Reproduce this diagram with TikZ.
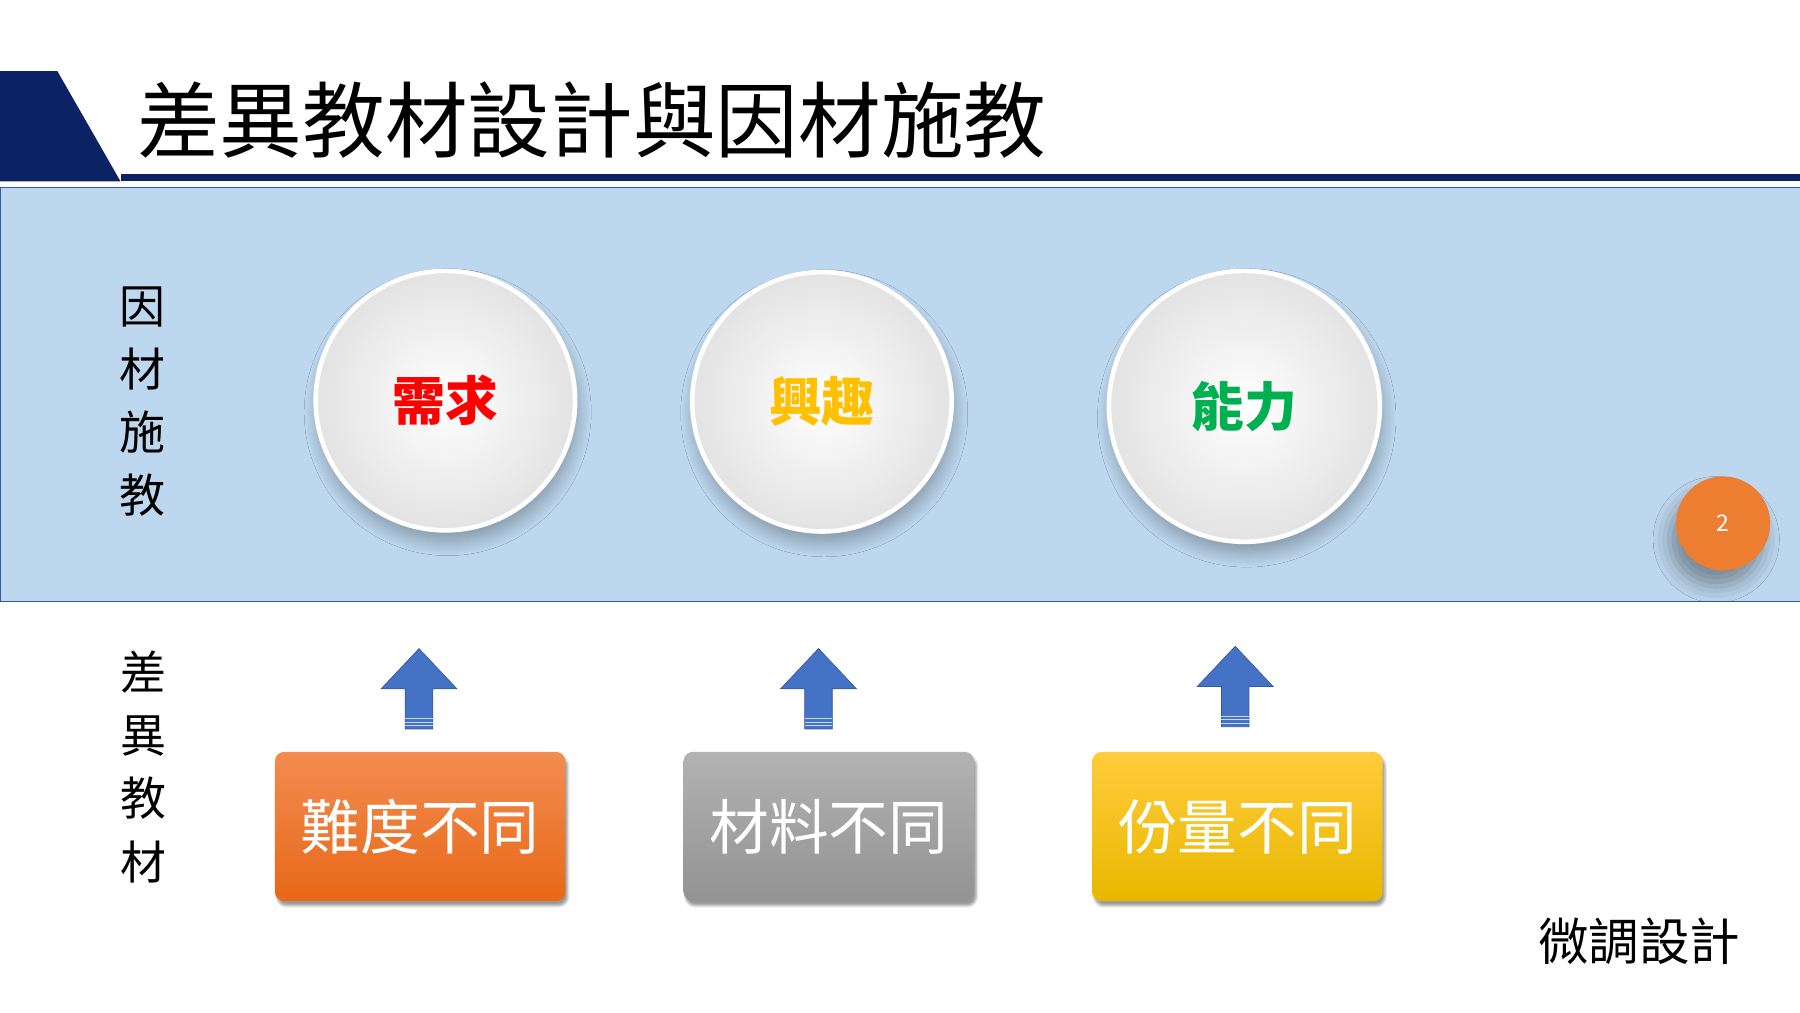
\documentclass[tikz,border=0pt]{standalone}
\usepackage{fontspec}
\setmainfont{Noto Sans CJK TC}
\usetikzlibrary{shadows.blur}
\definecolor{navy}{HTML}{0B2265}
\definecolor{band}{HTML}{BDD7EE}
\definecolor{arr}{HTML}{4472C4}
\tikzset{
 disc/.style={circle,draw=white,line width=4pt,inner color=white,outer color=gray!22,minimum size=226pt,blur shadow={shadow xshift=2pt,shadow yshift=-10pt,shadow blur steps=14,shadow blur radius=12pt,shadow opacity=30}},
 disctext/.style={font=\fontsize{46}{50}\selectfont\bfseries},
 uparrow/.style={fill=arr,draw=arr!80!black,line width=0.6pt},
 tbox/.style={rounded corners=8pt,minimum width=253pt,minimum height=130pt,text=white,font=\fontsize{52}{56}\selectfont,blur shadow={shadow xshift=2pt,shadow yshift=-4pt,shadow opacity=40}},
 side/.style={font=\fontsize{40}{55}\selectfont,align=center}
}
\newcommand\myarrow[1]{\draw[uparrow] ($(#1)+(0,-35)$) -- ($(#1)+(33,0)$) -- ($(#1)+(12,0)$) -- ($(#1)+(12,35)$) -- ($(#1)+(-12,35)$) -- ($(#1)+(-12,0)$) -- ($(#1)+(-33,0)$) -- cycle;
 \foreach \k in {26,29,32}{\draw[white!70!arr,line width=0.6pt] ($(#1)+(-12,\k)$) -- ($(#1)+(12,\k)$);}}
\usetikzlibrary{calc}
\begin{document}
\begin{tikzpicture}[x=1pt,y=-1pt]
\useasboundingbox (0,0) rectangle (1568,882);
\fill[navy] (0,62) -- (50,62) -- (105,158) -- (0,158) -- cycle;
\fill[navy] (105,152) rectangle (1568,158);
\node[anchor=west,font=\fontsize{72}{76}\selectfont] (title) at (116,105) {差異教材設計與因材施教};
\draw[fill=band,draw=arr!70!navy] (0,163) rectangle (1568,524);
\node[side] (l1) at (124,350) {因\\材\\施\\教};
\node[side] (l2) at (125,668) {差\\異\\教\\材};
\node[disc] (c1) at (388,349) {};
\node[disctext,text=red] at (c1) {需求};
\node[disc] (c2) at (716,350) {};
\node[disctext,text={rgb,255:red,255;green,192;blue,0}] at (c2) {興趣};
\node[disc,minimum size=236pt] (c3) at (1084,354) {};
\node[disctext,text={rgb,255:red,0;green,176;blue,80}] at (c3) {能力};
\node[circle,fill={rgb,255:red,237;green,125;blue,49},minimum size=82pt,text=white,font=\fontsize{20}{22}\selectfont,blur shadow={shadow xshift=-6pt,shadow yshift=-14pt,shadow blur radius=14pt,shadow opacity=35}] (pg) at (1501,456) {2};
\node[tbox,top color={rgb,255:red,242;green,140;blue,80},bottom color={rgb,255:red,232;green,104;blue,24}] (b1) at (366,720) {難度不同};
\node[tbox,top color=gray!60,bottom color=gray!85] (b2) at (722,720) {材料不同};
\node[tbox,top color={rgb,255:red,255;green,204;blue,60},bottom color={rgb,255:red,232;green,184;blue,0}] (b3) at (1078,720) {份量不同};
\coordinate (a1) at (365,600);
\coordinate (a2) at (713,600);
\coordinate (a3) at (1076,598);
\myarrow{a1}\myarrow{a2}\myarrow{a3}
\node[font=\fontsize{44}{48}\selectfont] (fine) at (1428,820) {微調設計};
\end{tikzpicture}
\end{document}
